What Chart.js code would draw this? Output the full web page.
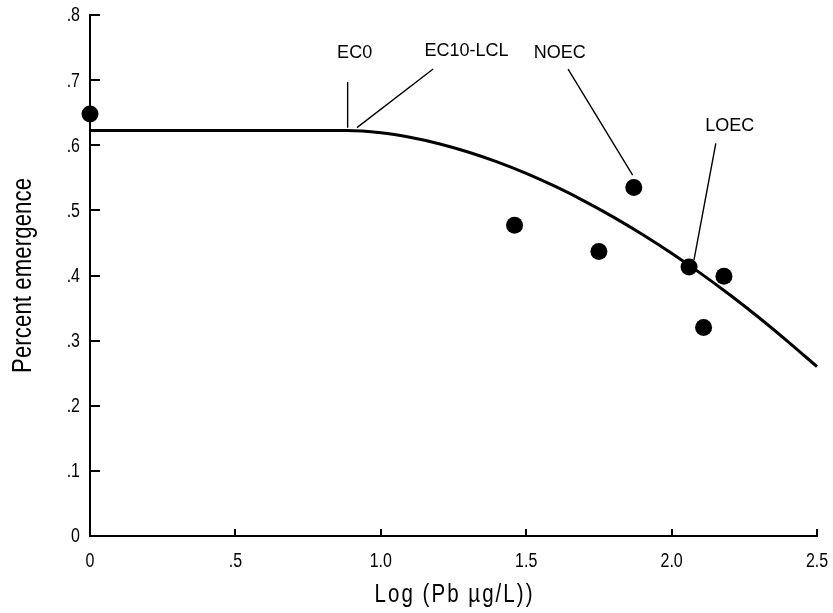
<!DOCTYPE html>
<html>
<head>
<meta charset="utf-8">
<script src="https://cdn.jsdelivr.net/npm/chart.js@4/dist/chart.umd.min.js"></script>
<style>
  html, body { margin: 0; padding: 0; background: #ffffff; }
  #wrap { width: 833px; height: 613px; }
</style>
</head>
<body>
<div id="wrap"><canvas id="c" width="833" height="613"></canvas></div>
<script>
// Observed emergence at each log concentration
const obsLogConc = [0, 1.46, 1.75, 1.87, 2.06, 2.11, 2.18];
const obsEmergence = [0.648, 0.477, 0.437, 0.535, 0.413, 0.320, 0.399];

// Fitted dose-response curve
const fitLogConc = [0, 0.883, 1.0, 1.1, 1.2, 1.3, 1.4, 1.5, 1.6, 1.7, 1.8, 1.9, 2.0, 2.1, 2.2, 2.3, 2.4, 2.5];
const fitEmergence = [0.6227, 0.6227, 0.6192, 0.6123, 0.6024, 0.5897, 0.5745, 0.5568, 0.5367, 0.5143, 0.4897, 0.4630, 0.4342, 0.4033, 0.3704, 0.3355, 0.2986, 0.2600];

// Tick labels
const xTickLabels = ['0', '.5', '1.0', '1.5', '2.0', '2.5'];
const yTickLabels = ['0', '.1', '.2', '.3', '.4', '.5', '.6', '.7', '.8'];

// Effect-level callouts (label position and leader line, in data units)
const markerNames = ['EC0', 'EC10-LCL', 'NOEC', 'LOEC'];
const markerLabelX = [0.910, 1.295, 1.615, 2.200];
const markerLabelY = [0.742, 0.744, 0.742, 0.629];
const leaderFromX = [0.886, 1.180, 1.644, 2.152];
const leaderFromY = [0.697, 0.717, 0.717, 0.603];
const leaderToX = [0.886, 0.918, 1.866, 2.077];
const leaderToY = [0.627, 0.627, 0.554, 0.424];

const xTitle = 'Log (Pb \u00b5g/L))';
const yTitle = 'Percent emergence';

const SANS = '"Liberation Sans", Arial, sans-serif';
const CONDENSE = 0.82;   // horizontal squeeze for the condensed axis lettering

// condensed text drawn at (x, y); align: 'left' | 'center' | 'right'
function condensedText(ctx, text, x, y, size, align, width) {
  ctx.save();
  ctx.font = size + 'px ' + SANS;
  ctx.textAlign = 'left';
  let spacing = 0;
  const natural = ctx.measureText(text).width * CONDENSE;
  let total = natural;
  if (width) {
    spacing = (width - natural) / (text.length - 1);
    total = width;
  }
  let start = x;
  if (align === 'center') start = x - total / 2;
  else if (align === 'right') start = x - total;
  ctx.translate(start, y);
  ctx.scale(CONDENSE, 1);
  ctx.letterSpacing = (spacing / CONDENSE) + 'px';
  ctx.fillText(text, 0, 0);
  ctx.restore();
}

const decorations = {
  id: 'decorations',
  afterDraw(chart) {
    const ctx = chart.ctx;
    const xs = chart.scales.x, ys = chart.scales.y;
    const area = chart.chartArea;
    ctx.save();
    ctx.strokeStyle = '#000';
    ctx.fillStyle = '#000';

    // inward tick marks
    ctx.lineWidth = 2;
    ctx.beginPath();
    ys.ticks.forEach(t => {
      const py = Math.round(ys.getPixelForValue(t.value));
      ctx.moveTo(area.left, py);
      ctx.lineTo(area.left + 10, py);
    });
    xs.ticks.forEach(t => {
      const px = Math.round(xs.getPixelForValue(t.value));
      ctx.moveTo(px, area.bottom);
      ctx.lineTo(px, area.bottom - 7);
    });
    ctx.stroke();

    // tick labels
    ctx.textBaseline = 'middle';
    ys.ticks.forEach(t => {
      const py = ys.getPixelForValue(t.value);
      condensedText(ctx, yTickLabels[Math.round(t.value * 10)], area.left - 10, py + 1, 19.5, 'right');
    });
    ctx.textBaseline = 'alphabetic';
    xs.ticks.forEach(t => {
      const px = xs.getPixelForValue(t.value);
      condensedText(ctx, xTickLabels[Math.round(t.value * 2)], px, area.bottom + 31, 19.5, 'center');
    });

    // callout leader lines
    ctx.lineWidth = 1.4;
    ctx.beginPath();
    for (let i = 0; i < markerNames.length; i++) {
      ctx.moveTo(xs.getPixelForValue(leaderFromX[i]), ys.getPixelForValue(leaderFromY[i]));
      ctx.lineTo(xs.getPixelForValue(leaderToX[i]), ys.getPixelForValue(leaderToY[i]));
    }
    ctx.stroke();

    // callout labels
    ctx.font = '18px ' + SANS;
    ctx.textAlign = 'center';
    ctx.textBaseline = 'middle';
    for (let i = 0; i < markerNames.length; i++) {
      ctx.fillText(markerNames[i], xs.getPixelForValue(markerLabelX[i]), ys.getPixelForValue(markerLabelY[i]));
    }

    // axis titles
    ctx.textBaseline = 'alphabetic';
    const cx = (area.left + area.right) / 2;
    condensedText(ctx, xTitle, cx, 602, 25, 'center', 158);

    const cy = (area.top + area.bottom) / 2;
    ctx.translate(31, cy);
    ctx.rotate(-Math.PI / 2);
    condensedText(ctx, yTitle, 0, 0, 27, 'center', 195);
    ctx.restore();
  }
};

new Chart(document.getElementById('c'), {
  type: 'scatter',
  data: {
    datasets: [
      {
        type: 'line',
        data: fitLogConc.map((x, i) => ({ x: x, y: fitEmergence[i] })),
        borderColor: '#000',
        borderWidth: 3,
        pointRadius: 0,
        fill: false,
        cubicInterpolationMode: 'monotone',
        clip: false
      },
      {
        data: obsLogConc.map((x, i) => ({ x: x, y: obsEmergence[i] })),
        backgroundColor: '#000',
        borderColor: '#000',
        borderWidth: 0,
        pointRadius: 8.5,
        clip: false
      }
    ]
  },
  options: {
    responsive: false,
    animation: false,
    devicePixelRatio: 1,
    layout: { padding: { top: 15, right: 16, left: 0, bottom: 0 } },
    plugins: { legend: { display: false }, tooltip: { enabled: false } },
    scales: {
      x: {
        type: 'linear',
        min: 0, max: 2.5,
        afterFit(s) { s.height = 77; s.paddingLeft = 0; s.paddingRight = 0; },
        ticks: { stepSize: 0.5, display: false },
        grid: { display: true, drawOnChartArea: false, drawTicks: false },
        border: { display: true, color: '#000', width: 2 }
      },
      y: {
        type: 'linear',
        min: 0, max: 0.8,
        afterFit(s) { s.width = 90; s.paddingTop = 0; s.paddingBottom = 0; },
        ticks: { stepSize: 0.1, display: false },
        grid: { display: true, drawOnChartArea: false, drawTicks: false },
        border: { display: true, color: '#000', width: 2 }
      }
    }
  },
  plugins: [decorations]
});
</script>
</body>
</html>
